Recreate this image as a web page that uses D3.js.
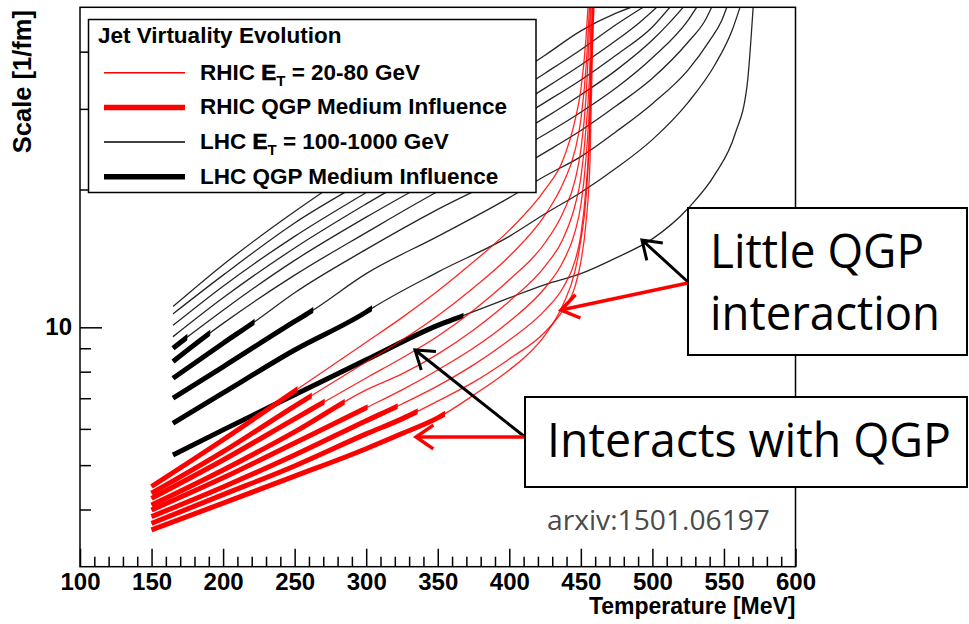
<!DOCTYPE html>
<html>
<head>
<meta charset="utf-8">
<script src="https://cdn.jsdelivr.net/npm/d3@7"></script>
<style>
  body { margin: 0; background: #fff; }
  svg { display: block; }
  .ax text { font-family: "Liberation Sans", Arial, sans-serif; font-weight: bold; font-size: 24px; fill: #000; }
  .ax line { stroke: #000; stroke-width: 1.5; }
</style>
</head>
<body>
<svg id="chart" width="969" height="624"></svg>
<script>
// ---- data -------------------------------------------------------------
// temperature [MeV] / scale [1/fm] pairs for each curve

var xMajorTicks = [100, 150, 200, 250, 300, 350, 400, 450, 500, 550, 600];
var yLabelTicks = [10];
var yMinorTicks = [4, 5, 6, 7, 8, 9, 20, 30, 40];

// LHC, E_T = 100 ... 1000 GeV (top to bottom at the start)
var lhcLines = [
  [[165,11.1],[200,13.7],[250,17.9],[300,22.8],[350,28.1],[400,34.9],[425,39.3],[450,44.4],[475,48.6],[485,50]],
  [[165,10.7],[200,13.0],[250,16.9],[300,21.0],[350,26.1],[400,32.0],[425,35.9],[450,40.4],[475,45.9],[493.5,50]],
  [[165,10.1],[200,12.3],[250,15.8],[300,19.7],[350,24.4],[400,29.8],[425,33.3],[450,37.4],[475,42.4],[491.3,46.4],[503,50]],
  [[165,9.54],[200,11.6],[250,14.9],[300,18.6],[350,22.9],[400,27.8],[425,31.0],[450,34.7],[475,39.4],[500,45.3],[512.2,50]],
  [[165,9.0],[175,9.52],[200,10.9],[250,14.0],[300,17.4],[350,21.3],[400,25.8],[425,28.7],[450,32.2],[475,36.5],[500,42.4],[512.3,46.4],[521.5,50]],
  [[165,8.42],[190.8,9.72],[200,10.2],[250,13.0],[300,16.1],[350,19.8],[400,23.8],[425,26.4],[450,29.5],[475,33.4],[500,38.8],[525,46.9],[530.9,50]],
  [[165,7.74],[200,9.23],[222.3,10.3],[250,11.9],[300,14.8],[350,18.1],[400,21.7],[425,24.1],[450,26.9],[475,30.5],[500,35.0],[525,42.0],[537,46.9],[541.4,50]],
  [[165,7.0],[200,8.2],[250,10.3],[262.8,10.9],[300,13.1],[350,15.8],[400,19.2],[425,21.4],[450,23.6],[475,26.8],[500,30.8],[525,36.5],[540.2,42.4],[548.6,46.9],[552,50]],
  [[165,6.17],[200,7.19],[250,8.92],[300,10.8],[304,11.0],[350,13.2],[400,15.8],[425,17.7],[450,19.7],[475,22.3],[500,25.7],[525,31.0],[543.8,37.5],[555.8,44.6],[561.2,50]],
  [[165,5.26],[200,5.97],[250,7.12],[300,8.49],[350,10.1],[367.6,10.6],[400,11.6],[425,12.4],[450,13.1],[475,14.2],[500,15.6],[525,18.2],[543.8,21.6],[557.7,26.4],[566.2,33.8],[570.4,50]]
];
// end of the thick "QGP medium influence" part, MeV (null = none)
var lhcThickEnd = [null, null, null, null, 175, 191, 222, 263, 304, 368];

// RHIC, E_T = 20 ... 80 GeV
var rhicLines = [
  [[150,4.49],[200,5.68],[250,7.26],[300,9.28],[325,10.5],[350,12.0],[375,13.9],[400,16.3],[425,20.0],[437.5,23.2],[446,28.4],[450,33.0],[453.5,42.4],[455,50]],
  [[150,4.34],[200,5.35],[250,6.73],[300,8.40],[325,9.38],[350,10.6],[375,12.2],[400,14.3],[425,17.6],[437.5,20.6],[446,24.4],[450,28.4],[453.5,36.5],[456,50]],
  [[150,4.23],[200,5.13],[250,6.31],[300,7.75],[325,8.57],[350,9.56],[375,10.9],[400,12.7],[425,15.3],[437.5,17.8],[446,21.0],[450,24.4],[453.5,31.4],[456.7,50]],
  [[150,4.09],[200,4.88],[250,5.91],[300,7.30],[325,7.91],[350,8.74],[375,9.87],[400,11.4],[425,13.6],[437.5,15.6],[446,18.5],[450,21.2],[453.5,27.0],[456.4,38.4],[457.2,50]],
  [[150,3.99],[200,4.69],[250,5.59],[300,6.67],[325,7.30],[350,8.07],[375,9.01],[400,10.3],[425,12.2],[437.5,13.9],[446,16.2],[450,18.5],[453.5,23.2],[456.4,33.0],[458,50]],
  [[150,3.86],[200,4.48],[250,5.26],[300,6.25],[325,6.80],[350,7.45],[375,8.28],[400,9.38],[425,10.9],[437.5,12.2],[446,14.0],[450,15.9],[453.5,20.0],[456.4,28.4],[458.3,50]],
  [[150,3.73],[200,4.31],[250,4.98],[300,5.85],[325,6.31],[350,6.90],[375,7.59],[400,8.53],[425,9.77],[437.5,10.9],[446,12.3],[450,13.9],[453.5,16.8],[456.4,23.2],[458.8,50]],
  [[150,3.61],[200,4.13],[250,4.73],[300,5.43],[325,5.86],[350,6.34],[375,7.11],[400,8.07],[412.5,8.70],[425,9.62],[437.5,11.2],[446,13.3],[450,15.5],[453.5,19.0],[455.6,24.4],[457,34.7],[459.2,50]]
];
var rhicThickEnd = [252, 262, 271, 285, 301, 322, 336, 355];

var legendTitle = 'Jet Virtuality Evolution';
var legendRows = [
  { pre: 'RHIC ', sub: true, post: ' = 20-80 GeV', color: '#ff0000', thick: false },
  { pre: 'RHIC QGP Medium Influence', sub: false, post: '', color: '#ff0000', thick: true },
  { pre: 'LHC ', sub: true, post: ' = 100-1000 GeV', color: '#000', thick: false },
  { pre: 'LHC QGP Medium Influence', sub: false, post: '', color: '#000', thick: true }
];

(function () {
  'use strict';

  // ---- layout -----------------------------------------------------------
  var svg = d3.select('#chart');
  var pL = 80, pR = 795.5, pT = 7.3, pB = 566.7;
  var FONT = '"Liberation Sans", Arial, sans-serif';

  var x = d3.scaleLinear().domain([100, 600]).range([pL, pR]);
  var y = d3.scaleLog().domain([3, 50]).range([pB, pT]);

  var line = d3.line()
    .x(function (d) { return x(d[0]); })
    .y(function (d) { return y(d[1]); })
    .curve(d3.curveMonotoneX);

  var defs = svg.append('defs');
  defs.append('clipPath').attr('id', 'plot-clip')
    .append('rect').attr('x', pL).attr('y', pT)
    .attr('width', pR - pL).attr('height', pB - pT);

  var plot = svg.append('g').attr('clip-path', 'url(#plot-clip)');

  function drawFamily(name, lines, thickEnd, color) {
    var g = plot.append('g').attr('class', name);
    lines.forEach(function (pts, i) {
      g.append('path').attr('d', line(pts))
        .attr('fill', 'none').attr('stroke', color)
        .attr('stroke-width', 1.3).attr('stroke-opacity', 0.85);
      if (thickEnd[i] == null) return;
      var id = name + '-thick-' + i;
      defs.append('clipPath').attr('id', id)
        .append('rect').attr('x', 0).attr('y', 0)
        .attr('width', x(thickEnd[i])).attr('height', 624);
      g.append('path').attr('d', line(pts))
        .attr('clip-path', 'url(#' + id + ')')
        .attr('fill', 'none').attr('stroke', color)
        .attr('stroke-width', 5).attr('stroke-linecap', 'butt');
    });
  }

  drawFamily('lhc', lhcLines, lhcThickEnd, '#000');
  drawFamily('rhic', rhicLines, rhicThickEnd, '#ff0000');

  // ---- axes -------------------------------------------------------------
  function noDomain(g) { g.select('.domain').remove(); }

  svg.append('g').attr('class', 'ax')
    .attr('transform', 'translate(0,' + pB + ')')
    .call(d3.axisBottom(x).tickValues(d3.range(100, 601, 10).filter(function (v) { return v % 50; }))
      .tickSize(-10).tickFormat(''))
    .call(noDomain);
  svg.append('g').attr('class', 'ax')
    .attr('transform', 'translate(0,' + pB + ')')
    .call(d3.axisBottom(x).tickValues(xMajorTicks).tickSize(-18).tickPadding(6).tickFormat(d3.format('d')))
    .call(noDomain)
    .selectAll('text').attr('dy', '0.72em');

  svg.append('g').attr('class', 'ax')
    .attr('transform', 'translate(' + pL + ',0)')
    .call(d3.axisLeft(y).tickValues(yMinorTicks).tickSize(-11).tickFormat(''))
    .call(noDomain);
  svg.append('g').attr('class', 'ax')
    .attr('transform', 'translate(' + pL + ',0)')
    .call(d3.axisLeft(y).tickValues(yLabelTicks).tickSize(-22).tickPadding(8).tickFormat(d3.format('d')))
    .call(noDomain);

  // frame
  svg.append('rect')
    .attr('x', pL).attr('y', pT).attr('width', pR - pL).attr('height', pB - pT)
    .attr('fill', 'none').attr('stroke', '#000').attr('stroke-width', 1.5);

  // axis titles
  svg.append('text')
    .attr('x', pR).attr('y', 614)
    .attr('text-anchor', 'end')
    .style('font-family', FONT).style('font-weight', 'bold').style('font-size', '23px')
    .text('Temperature [MeV]');
  svg.append('text')
    .attr('transform', 'translate(31,10) rotate(-90)')
    .attr('text-anchor', 'end')
    .style('font-family', FONT).style('font-weight', 'bold').style('font-size', '25.5px')
    .text('Scale [1/fm]');

  // ---- legend -----------------------------------------------------------
  var leg = svg.append('g');
  leg.append('rect')
    .attr('x', 88.5).attr('y', 19.5).attr('width', 447.5).attr('height', 173)
    .attr('fill', '#fff').attr('stroke', '#000').attr('stroke-width', 1.5);
  leg.append('text')
    .attr('x', 98).attr('y', 43)
    .style('font-family', FONT).style('font-weight', 'bold').style('font-size', '22.5px')
    .text(legendTitle);

  legendRows.forEach(function (r, i) {
    var ly = 72.7 + i * 34.7;
    leg.append('line')
      .attr('x1', 104).attr('x2', 185).attr('y1', ly).attr('y2', ly)
      .attr('stroke', r.color).attr('stroke-width', r.thick ? 5.5 : 1.5);
    var t = leg.append('text')
      .attr('x', 200).attr('y', ly + 7)
      .style('font-family', FONT).style('font-weight', 'bold').style('font-size', '22.5px');
    t.append('tspan').text(r.pre);
    if (r.sub) {
      t.append('tspan').text('E').attr('stroke', '#000').attr('stroke-width', 0.7);
      t.append('tspan').text('T').attr('dy', 6).style('font-size', '15px');
      t.append('tspan').text(r.post).attr('dy', -6);
    }
  });

  // ---- annotations ------------------------------------------------------
  svg.append('text')
    .attr('x', 547).attr('y', 530)
    .attr('textLength', 223).attr('lengthAdjust', 'spacingAndGlyphs')
    .style('font-family', '"Open Sans", sans-serif').style('font-size', '27px')
    .attr('fill', '#4a4a4a')
    .text('arxiv:1501.06197');

  function arrow(x1, y1, x2, y2, color, w) {
    var a = Math.atan2(y1 - y2, x1 - x2), L = 21, s = 0.6;
    svg.append('line').attr('x1', x1).attr('y1', y1).attr('x2', x2).attr('y2', y2)
      .attr('stroke', color).attr('stroke-width', w);
    svg.append('polyline')
      .attr('points', [
        [x2 + L * Math.cos(a + s), y2 + L * Math.sin(a + s)],
        [x2, y2],
        [x2 + L * Math.cos(a - s), y2 + L * Math.sin(a - s)]
      ].map(function (p) { return p.join(','); }).join(' '))
      .attr('fill', 'none').attr('stroke', color).attr('stroke-width', w)
      .attr('stroke-linejoin', 'miter');
  }

  arrow(688, 282, 642, 240, '#000', 3);
  arrow(688, 283, 561, 310, '#ff0000', 3.5);
  arrow(525, 437, 415, 350, '#000', 3);
  arrow(525, 437, 416, 437, '#ff0000', 3.5);

  function callout(bx, by, bw, bh, lines) {
    svg.append('rect').attr('x', bx).attr('y', by).attr('width', bw).attr('height', bh)
      .attr('fill', '#fff').attr('stroke', '#000').attr('stroke-width', 2);
    lines.forEach(function (l) {
      svg.append('text').attr('x', l.x).attr('y', l.y)
        .attr('textLength', l.w).attr('lengthAdjust', 'spacingAndGlyphs')
        .style('font-family', '"Open Sans", sans-serif').style('font-size', '48px')
        .text(l.t);
    });
  }

  callout(688, 208, 279, 147, [
    { t: 'Little QGP', x: 710, y: 268, w: 214 },
    { t: 'interaction', x: 710, y: 330, w: 230 }
  ]);
  callout(525, 397, 442, 90, [
    { t: 'Interacts with QGP', x: 547, y: 457, w: 404 }
  ]);
})();
</script>
</body>
</html>
